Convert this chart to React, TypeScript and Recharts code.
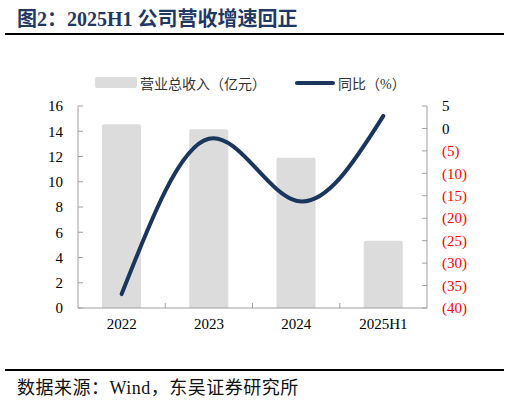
import { ComposedChart, Bar, Line, XAxis, YAxis } from "recharts"

const categories = ["2022", "2023", "2024", "2025H1"]
const revenue = [14.55, 14.15, 11.9, 5.33]
const yoy = [-36.9, -2.3, -16.1, 2.8]
const leftTicks = [0, 2, 4, 6, 8, 10, 12, 14, 16]
const rightTicks = [5, 0, -5, -10, -15, -20, -25, -30, -35, -40]

const data = categories.map((name, i) => ({ name, revenue: revenue[i], yoy: yoy[i] }))

const W = 509
const H = 402
const LEFT_W = 78
const RIGHT_W = 82
const TOP = 106
const X_H = 30
const BOTTOM = 64
const HALF_BAND = (W - LEFT_W - RIGHT_W) / categories.length / 2
const X_MARGIN = 10

const serif = '"Liberation Serif", "Times New Roman", "Noto Sans CJK SC", serif'
const cjk = '"Liberation Serif", "Noto Sans CJK SC", sans-serif'
const axisGray = "#a0a0a0"
const navy = "#1b365d"

function XTick(props: any) {
  const { x, y, payload, index } = props
  const axisY = y - X_MARGIN
  return (
    <g>
      <text x={x} y={y} dy="0.75em" textAnchor="middle" fill="#000" fontSize={15} fontFamily={serif}>
        {payload.value}
      </text>
      {index < categories.length - 1 && (
        <line x1={x + HALF_BAND} x2={x + HALF_BAND} y1={axisY - 5} y2={axisY} stroke={axisGray} />
      )}
    </g>
  )
}

function RightTick(props: any) {
  const { x, y, payload } = props
  const v = payload.value as number
  return (
    <text x={x} y={y} dy="0.35em" textAnchor="start" fill={v < 0 ? "#ff0000" : "#000"} fontSize={15} fontFamily={serif}>
      {v < 0 ? `(${-v})` : v}
    </text>
  )
}

export default function App() {
  return (
    <div style={{ position: "absolute", left: 0, top: 0, width: W, height: H, background: "#fff" }}>
      <div
        style={{
          position: "absolute",
          left: 17,
          top: 3,
          fontSize: 20,
          fontWeight: 700,
          color: "#1f3864",
          fontFamily: cjk,
          whiteSpace: "nowrap",
        }}
      >
        图2：2025H1 公司营收增速回正
      </div>
      <div style={{ position: "absolute", left: 5, top: 33, width: 499, height: 2, background: "#000" }} />

      <div style={{ position: "absolute", left: 95, top: 77, width: 42, height: 11, background: "#dcdcdc", borderRadius: 2 }} />
      <div
        style={{ position: "absolute", left: 140, top: 73, fontSize: 14, color: "#333", fontFamily: cjk, whiteSpace: "nowrap" }}
      >
        营业总收入（亿元）
      </div>
      <div style={{ position: "absolute", left: 295, top: 81, width: 40, height: 4, background: navy, borderRadius: 2 }} />
      <div
        style={{ position: "absolute", left: 338, top: 73, fontSize: 14, color: "#333", fontFamily: cjk, whiteSpace: "nowrap" }}
      >
        同比（%）
      </div>

      <div style={{ position: "absolute", left: 0, top: 0 }}>
        <ComposedChart width={W} height={H} data={data} margin={{ top: TOP, right: 0, bottom: BOTTOM, left: 0 }}>
          <XAxis
            dataKey="name"
            height={X_H}
            tickSize={0}
            tickMargin={X_MARGIN}
            tickLine={false}
            axisLine={{ stroke: axisGray }}
            tick={<XTick />}
            interval={0}
          />
          <YAxis
            yAxisId="left"
            width={LEFT_W}
            domain={[0, 16]}
            ticks={leftTicks}
            interval={0}
            tickSize={-5}
            tickMargin={20}
            axisLine={{ stroke: axisGray }}
            tickLine={{ stroke: axisGray }}
            tick={{ fill: "#000", fontSize: 15, fontFamily: serif }}
          />
          <YAxis
            yAxisId="right"
            orientation="right"
            width={RIGHT_W}
            domain={[-40, 5]}
            ticks={rightTicks}
            interval={0}
            tickSize={-5}
            tickMargin={20}
            axisLine={{ stroke: axisGray }}
            tickLine={{ stroke: axisGray }}
            tick={<RightTick />}
          />
          <Bar yAxisId="left" dataKey="revenue" fill="#dcdcdc" barSize={39} radius={[2, 2, 0, 0]} isAnimationActive={false} />
          <Line
            yAxisId="right"
            dataKey="yoy"
            type="natural"
            stroke={navy}
            strokeWidth={4}
            strokeLinecap="round"
            dot={false}
            activeDot={false}
            isAnimationActive={false}
          />
        </ComposedChart>
      </div>

      <div style={{ position: "absolute", left: 5, top: 369, width: 499, height: 2, background: "#000" }} />
      <div
        style={{
          position: "absolute",
          left: 17,
          top: 373,
          fontSize: 18,
          letterSpacing: 0.5,
          color: "#111",
          fontFamily: cjk,
          whiteSpace: "nowrap",
        }}
      >
        数据来源：Wind，东吴证券研究所
      </div>
    </div>
  )
}
